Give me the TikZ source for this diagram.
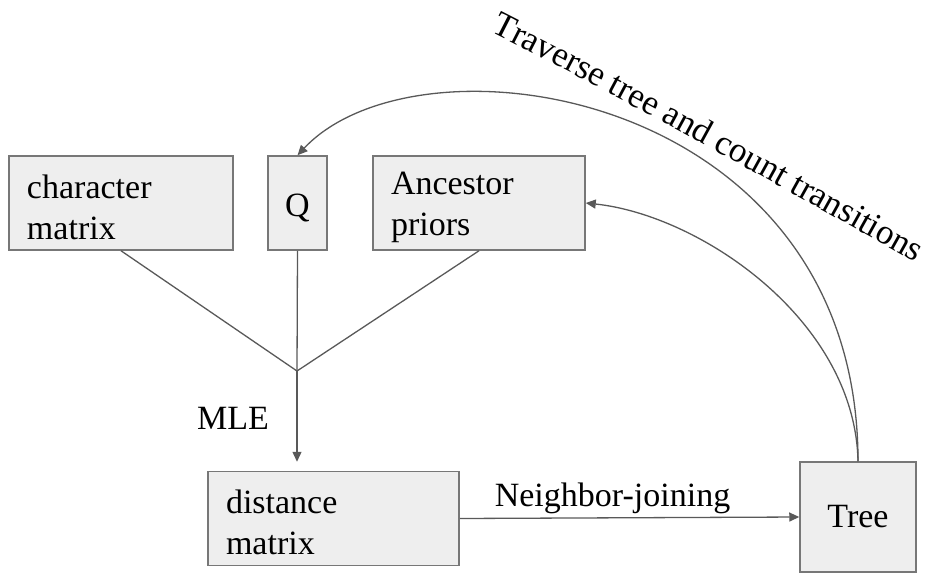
\documentclass[tikz,border=0pt]{standalone}
\usepackage{fontspec}
\setmainfont{Liberation Serif}
\usetikzlibrary{arrows.meta,decorations.text}
\definecolor{boxfill}{HTML}{EEEEEE}
\definecolor{boxline}{HTML}{777777}
\definecolor{wire}{HTML}{595959}
\def\bigtext{\fontsize{34}{41}\selectfont}
\def\arctext{\fontsize{35}{42}\selectfont}
\tikzset{
  box/.style={draw=boxline, fill=boxfill, line width=1.5pt, inner xsep=18pt, inner ysep=0pt, minimum height=94pt, align=left, font=\bigtext},
  lowtext/.style={execute at begin node={\rule{0pt}{32pt}}},
  wire/.style={draw=wire, line width=1.3pt},
  arr/.style={wire, -{Triangle[length=10pt,width=9pt]}}
}

\begin{document}
\begin{tikzpicture}[x=1pt,y=-1pt]
			%%%%% START %%%%%
			\useasboundingbox (0,0) rectangle (936,575);
			
			\node[box, lowtext, text width=188pt] (charm) at (121,203) {character\\matrix};
			\node[box, lowtext, minimum width=59pt, inner xsep=0pt, align=center] (q) at (297.5,203) {Q};
			\node[box, lowtext, text width=176pt] (priors) at (479,203) {Ancestor\\priors};
			
			\node[box, lowtext, text width=215pt] (dist) at (333.5,518.5) {distance\\matrix};
			\node[box, minimum width=116pt, minimum height=110pt, inner xsep=0pt, align=center] (tree) at (858,517) {Tree};
			
			\coordinate (join) at (297,371);
			\draw[wire] (charm.south) -- (join);
			\draw[wire] (q.south) -- (join);
			\draw[wire] (priors.south) -- (join);
			
			\draw[arr, shorten >=9pt] (join) -- (join |- dist.north);
			\node[font=\bigtext] (mle) at (233,418) {MLE};
			
			\draw[arr] (dist.east) -- node[above, pos=0.45, font=\bigtext] (nj) {Neighbor-joining} (tree.west);
			
			\draw[arr] (tree.north) .. controls (858,90) and (420,25) .. (q.north);
			\draw[arr] (tree.north) .. controls (855,320) and (700,215) .. (priors.east);
			\path[decorate, decoration={text along path, text align=center,
			  text={|\arctext|Traverse tree and count transitions}}]
			  (484,28) .. controls (630,102) and (776,184) .. (922,266);
			
			%%%%% END %%%%%
\end{tikzpicture}
\end{document}
